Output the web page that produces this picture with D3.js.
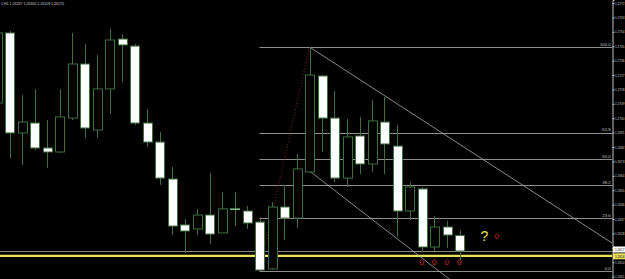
<!DOCTYPE html>
<html>
<head>
<meta charset="utf-8">
<script src="https://cdn.jsdelivr.net/npm/d3@7"></script>
<style>
  html, body { margin: 0; padding: 0; background: #000; }
  svg { display: block; }
</style>
</head>
<body>
<div id="chart"></div>
<script>
// OHLC per bar, oldest first (bar 0 is cut by the left edge)
const opens  = [1.27095, 1.27533, 1.26908, 1.26970, 1.26814, 1.26789, 1.27001, 1.27339, 1.26926, 1.27183,
                1.27495, 1.27451, 1.26970, 1.26851, 1.26620, 1.26333, 1.26308, 1.26395, 1.26283, 1.26433,
                1.26420, 1.26351, 1.26058, 1.26445, 1.26376, 1.26664, 1.27264, 1.27001, 1.26626, 1.26889,
                1.26714, 1.26976, 1.26826, 1.26420, 1.26558, 1.26195, 1.26320, 1.26267];
const highs  = [1.27551, 1.27545, 1.27145, 1.27183, 1.26989, 1.27183, 1.27533, 1.27464, 1.27395, 1.27558,
                1.27526, 1.27464, 1.27058, 1.26914, 1.26695, 1.26370, 1.26433, 1.26658, 1.26539, 1.26539,
                1.26451, 1.26383, 1.26476, 1.26583, 1.26776, 1.27445, 1.27270, 1.27170, 1.26995, 1.27008,
                1.27114, 1.27133, 1.26958, 1.26601, 1.26570, 1.26389, 1.26358, 1.26300];
const lows   = [1.27051, 1.26751, 1.26708, 1.26801, 1.26689, 1.26783, 1.26989, 1.26876, 1.26876, 1.27026,
                1.27226, 1.26958, 1.26820, 1.26583, 1.26270, 1.26158, 1.26270, 1.26214, 1.26283, 1.26326,
                1.26308, 1.26045, 1.26051, 1.26239, 1.26314, 1.26658, 1.26789, 1.26601, 1.26570, 1.26651,
                1.26664, 1.26651, 1.26258, 1.26364, 1.26164, 1.26170, 1.26189, 1.26109];
const closes = [1.27533, 1.26908, 1.26976, 1.26814, 1.26789, 1.27008, 1.27339, 1.26939, 1.27183, 1.27489,
                1.27458, 1.26970, 1.26851, 1.26626, 1.26326, 1.26295, 1.26395, 1.26276, 1.26433, 1.26433,
                1.26345, 1.26051, 1.26445, 1.26376, 1.26683, 1.27270, 1.27001, 1.26626, 1.26883, 1.26714,
                1.26983, 1.26839, 1.26420, 1.26570, 1.26195, 1.26320, 1.26270, 1.26170];

const priceTicks = [1.2772, 1.2763, 1.2754, 1.2745, 1.2736, 1.2727, 1.2718, 1.2709, 1.2700, 1.2691,
                    1.2682, 1.2673, 1.2664, 1.2655, 1.2646, 1.2637, 1.2628, 1.2619, 1.2610, 1.2601];

// fibonacci retracement, drawn from the swing low bar to the swing high bar
const fibFrom = { bar: 21, price: 1.26045 };
const fibTo = { bar: 25, price: 1.27445 };
const fibLevels = [0, 0.236, 0.382, 0.5, 0.618, 1];

// two falling trendlines [bar, price]
const trendUpper = [[25, 1.27445], [49.2, 1.26220]];
const trendLower = [[25, 1.26670], [40, 1.25764]];

const arrowBars = [34, 35, 36, 37, 40];
const arrowPrices = [1.26101, 1.26101, 1.26101, 1.26101, 1.26264];
const questionMark = { bar: 39, price: 1.26264 };

const bidPrice = 1.2617, hLinePrice = 1.2614;
const header = '1,H1  1.26267 1.26300 1.26109 1.26170';

const W = 625, H = 279, axisX = 612.5;
const C = { bg: '#000', wick: '#3f6e3f', bear: '#ffffff', fib: '#8f8f8f', trend: '#a9a9a9',
            axis: '#bfbfbf', text: '#c8c8c8', red: '#b3261e', yellow: '#e9e25a' };
const FONT = '"Liberation Sans", Arial, sans-serif';
const TINY = 4.2, AXISFONT = 3.1;

const svg = d3.select('#chart').append('svg').attr('width', W).attr('height', H)
  .style('background', C.bg);

const x = d3.scaleLinear().domain([0, 37]).range([-3, 459.5]);
const y = d3.scaleLinear().domain([1.25995, 1.27739]).range([H, 0]);
const snap = v => Math.round(v) + 0.5;

svg.append('clipPath').attr('id', 'plot').append('rect').attr('width', axisX).attr('height', H);
const plot = svg.append('g').attr('clip-path', 'url(#plot)');

// fib levels
const fibG = plot.append('g');
const fibY = lv => y(fibFrom.price + (fibTo.price - fibFrom.price) * lv);
fibG.selectAll('line').data(fibLevels).join('line')
  .attr('x1', x(fibFrom.bar)).attr('x2', axisX)
  .attr('y1', d => snap(fibY(d))).attr('y2', d => snap(fibY(d)))
  .attr('stroke', C.fib).attr('stroke-width', 1);
fibG.selectAll('text').data(fibLevels).join('text')
  .attr('x', axisX - 2).attr('y', d => fibY(d) - 1.2)
  .attr('text-anchor', 'end').attr('font-family', FONT).attr('font-size', TINY)
  .attr('fill', C.text).text(d => (d * 100).toFixed(1));

// bid line and horizontal yellow line
plot.append('line').attr('x1', 0).attr('x2', axisX)
  .attr('y1', snap(y(bidPrice))).attr('y2', snap(y(bidPrice)))
  .attr('stroke', '#8a8a8a');
plot.append('line').attr('x1', 0).attr('x2', axisX)
  .attr('y1', y(hLinePrice)).attr('y2', y(hLinePrice))
  .attr('stroke', C.yellow).attr('stroke-width', 2.2);

// trendlines
const line = d3.line().x(d => x(d[0])).y(d => y(d[1]));
[trendUpper, trendLower].forEach(t => plot.append('path').attr('d', line(t))
  .attr('fill', 'none').attr('stroke', C.trend).attr('stroke-width', 0.8));

// red dotted fib base
plot.append('line')
  .attr('x1', x(fibFrom.bar)).attr('y1', y(fibFrom.price))
  .attr('x2', x(fibTo.bar)).attr('y2', y(fibTo.price))
  .attr('stroke', '#8e1c1c').attr('stroke-width', 1).attr('stroke-dasharray', '1,2');

// candles
const bars = d3.range(opens.length);
const cg = plot.append('g');
cg.selectAll('line').data(bars).join('line')
  .attr('x1', i => snap(x(i))).attr('x2', i => snap(x(i)))
  .attr('y1', i => y(highs[i])).attr('y2', i => y(lows[i]))
  .attr('stroke', C.wick);
cg.selectAll('rect').data(bars).join('rect')
  .attr('x', i => Math.round(x(i) - 4.5) + 0.5).attr('width', 9)
  .attr('y', i => y(Math.max(opens[i], closes[i])))
  .attr('height', i => Math.max(0.6, Math.abs(y(opens[i]) - y(closes[i]))))
  .attr('fill', i => closes[i] < opens[i] ? C.bear : '#000')
  .attr('stroke', i => opens[i] === closes[i] ? '#7fc07f' : C.wick)
  .attr('stroke-width', 1);

// arrow marks
const arrow = 'M0,-2.5 L2.5,0 L1.2,0 L1.2,2.5 L-1.2,2.5 L-1.2,0 L-2.5,0 Z';
plot.selectAll('path.arr').data(arrowBars).join('path').attr('class', 'arr')
  .attr('d', arrow)
  .attr('transform', (b, i) => `translate(${x(b)},${y(arrowPrices[i])})`)
  .attr('fill', 'none').attr('stroke', C.red).attr('stroke-width', 0.8);
plot.append('text').attr('x', x(questionMark.bar)).attr('y', y(questionMark.price) + 5)
  .attr('text-anchor', 'middle').attr('font-family', FONT).attr('font-size', 14)
  .attr('fill', C.yellow).text('?');

// price tags sit over the axis labels, so skip labels they would cover
const tags = [[bidPrice, '#ffffff', y(bidPrice) - 1.5], [hLinePrice, C.yellow, y(hLinePrice) + 0.5]];
const shown = priceTicks.filter(t => tags.every(([, , ty]) => Math.abs(y(t) - ty) > 4.5));

// price axis
const axis = svg.append('g').attr('transform', `translate(${axisX},0)`)
  .call(d3.axisRight(y).tickValues(priceTicks).tickFormat(d3.format('.4f')).tickSize(2).tickPadding(0.5));
axis.select('.domain').attr('stroke', C.axis);
axis.selectAll('.tick line').attr('stroke', C.axis);
axis.selectAll('.tick text')
  .attr('fill', C.text).attr('font-family', FONT).attr('font-size', AXISFONT)
  .style('display', d => shown.includes(d) ? null : 'none');

// price tags
tags.forEach(([p, bg, cy]) => {
  const g = svg.append('g').attr('transform', `translate(${axisX + 0.5},${cy})`);
  g.append('rect').attr('x', 0).attr('y', -3).attr('width', W - axisX).attr('height', 6).attr('fill', bg);
  g.append('text').attr('x', 2).attr('y', 1.2).attr('font-family', FONT).attr('font-size', AXISFONT)
    .attr('fill', '#000').text(p.toFixed(4));
});

svg.append('text').attr('x', 1).attr('y', 4.5).attr('font-family', FONT).attr('font-size', TINY)
  .attr('textLength', 63).attr('lengthAdjust', 'spacingAndGlyphs')
  .attr('fill', C.text).text(header);
</script>
</body>
</html>
